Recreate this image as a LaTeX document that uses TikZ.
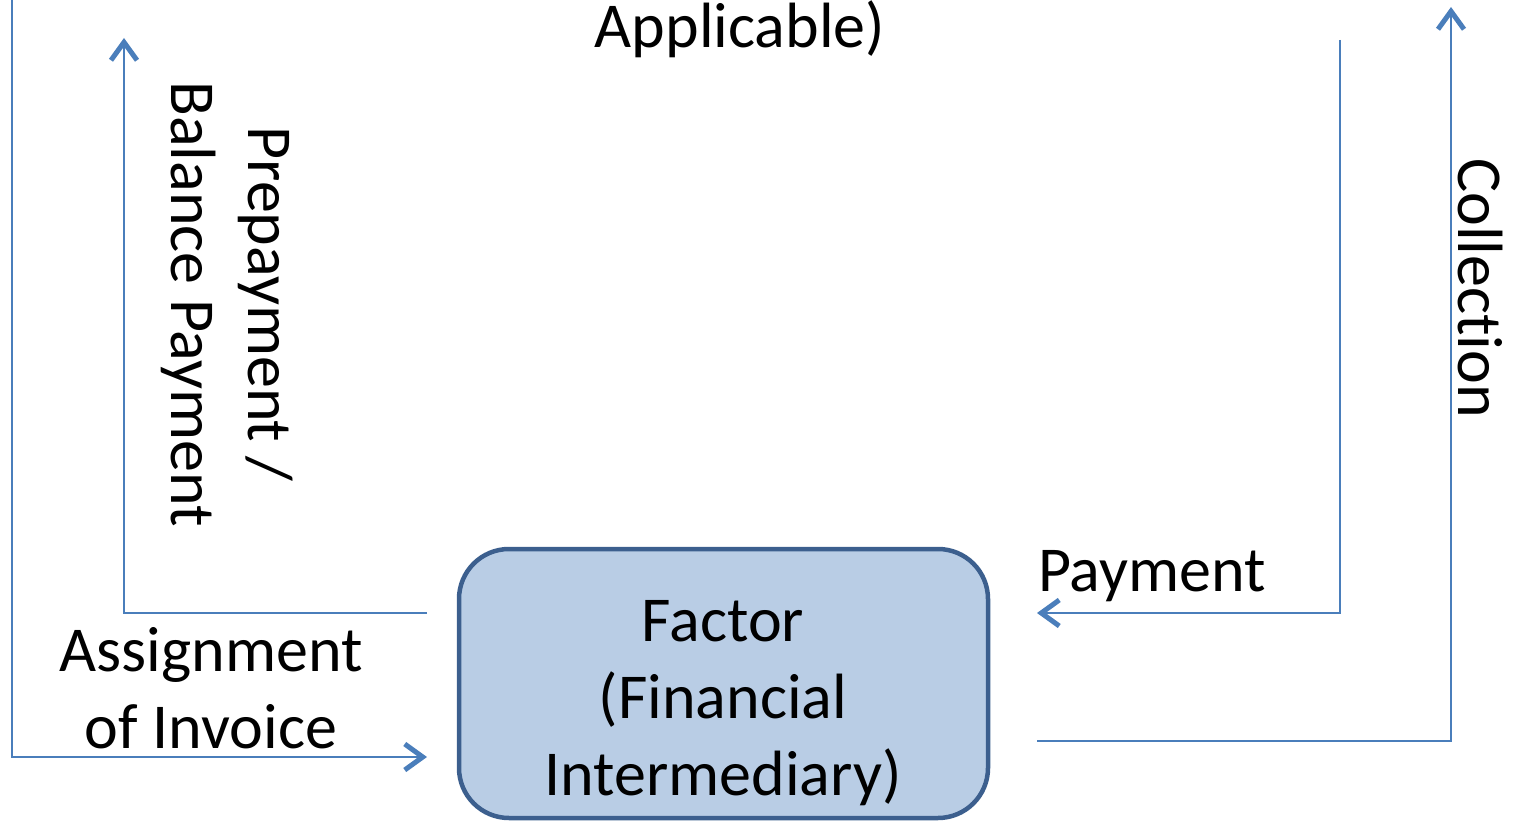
\documentclass[tikz,border=0pt]{standalone}
\usepackage{fontspec}
\setmainfont{Carlito}[Ligatures=NoCommon]
\usetikzlibrary{arrows.meta}
\definecolor{lineblue}{HTML}{4A7EBB}
\definecolor{boxfill}{HTML}{B9CDE5}
\definecolor{boxdraw}{HTML}{3C5F8E}
\begin{document}
\begin{tikzpicture}[x=1pt,y=-1pt,
  conn/.style={draw=lineblue,line width=2pt,-{Straight Barb[length=18pt,width=26pt,line width=5pt]}},
  lbl/.style={font=\fontsize{64}{77}\selectfont,align=center,inner sep=0pt},
  box/.style={draw=boxdraw,fill=boxfill,line width=4.5pt,rounded corners=50pt,minimum width=529pt,minimum height=269pt,inner sep=0pt}]
\useasboundingbox (0,0) rectangle (1513,821);
\node[box] (f) at (723.5,683.5) {};
\node[lbl,anchor=base] (ft) at (723,795) {Factor\\(Financial\\Intermediary)};
% connector end points
\coordinate (a1) at (12,0);
\coordinate (a2) at (12,757);
\coordinate (a3) at (427,757);
\coordinate (b1) at (427,613);
\coordinate (b2) at (124,613);
\coordinate (b3) at (124,38);
\coordinate (c1) at (1340,40);
\coordinate (c2) at (1340,613);
\coordinate (c3) at (1037,613);
\coordinate (d1) at (1037,741);
\coordinate (d2) at (1451,741);
\coordinate (d3) at (1451,7);
\draw[conn] (a1) -- (a2) -- (a3);
\draw[conn] (b1) -- (b2) -- (b3);
\draw[conn] (c1) -- (c2) -- (c3);
\draw[conn] (d1) -- (d2) -- (d3);
% labels
\node[lbl,anchor=base] (app) at (740,48) {Applicable)};
\node[lbl,anchor=base west] (pay) at (1038,591) {Payment};
\node[lbl,anchor=base] (asg) at (211,748) {Assignment\\of Invoice};
\node[lbl,anchor=base,rotate=-90] (col) at (1458,288) {Collection};
\node[lbl,anchor=base,rotate=-90] (pre) at (171,304) {Prepayment /\\Balance Payment};
\end{tikzpicture}
\end{document}
